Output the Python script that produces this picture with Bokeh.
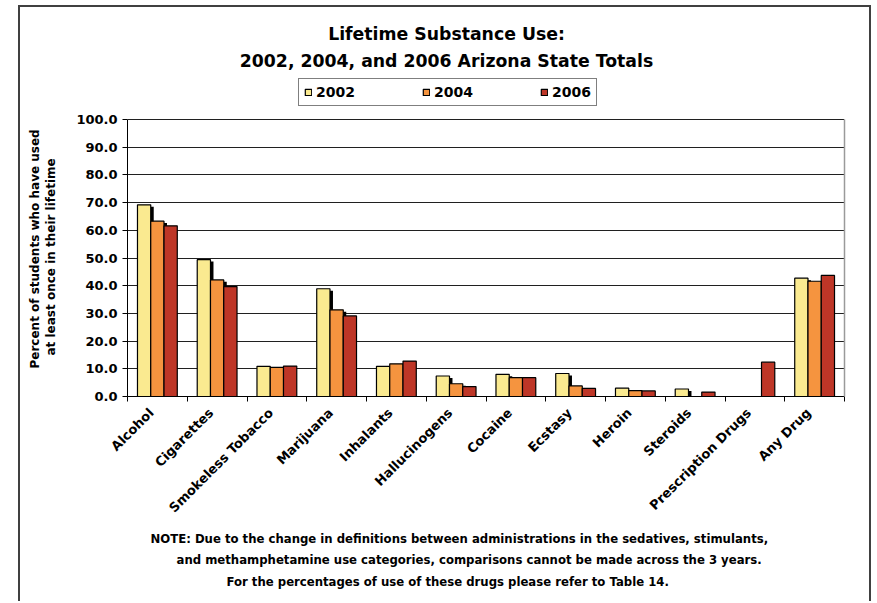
import math
from bokeh.plotting import figure
from bokeh.models import (Range1d, LinearAxis, FixedTicker, Title, Label,
                          Legend, LegendItem, PrintfTickFormatter, ColumnDataSource, Grid)
from bokeh.transform import dodge
from bokeh.embed import file_html
from bokeh.resources import INLINE

nan = float("nan")

categories = ["Alcohol", "Cigarettes", "Smokeless Tobacco", "Marijuana", "Inhalants",
              "Hallucinogens", "Cocaine", "Ecstasy", "Heroin", "Steroids",
              "Prescription Drugs", "Any Drug"]
y2002 = [69.2, 49.4, 10.9, 38.9, 10.9, 7.4, 8.0, 8.3, 3.0, 2.7, nan, 42.7]
y2004 = [63.3, 42.1, 10.5, 31.3, 11.8, 4.6, 6.8, 3.8, 2.1, nan, nan, 41.6]
y2006 = [61.6, 39.7, 11.0, 29.1, 12.8, 3.6, 6.8, 2.9, 2.0, 1.6, 12.4, 43.7]
years = ["2002", "2004", "2006"]
yticks = [0, 10, 20, 30, 40, 50, 60, 70, 80, 90, 100]

title_lines = ["Lifetime Substance Use:", "2002, 2004, and 2006 Arizona State Totals"]
ytitle_lines = ["Percent of students who have used", "at least once in their lifetime"]
note_lines = [
    "NOTE: Due to the change in definitions between administrations in the sedatives, stimulants,",
    "and methamphetamine use categories, comparisons cannot be made across the 3 years.",
    "For the percentages of use of these drugs please refer to Table 14.",
]

colors = ["#FAEA90", "#F5943F", "#BE3627"]
FONT = "DejaVu Sans"

n = len(categories)
centers = [i + 0.5 for i in range(n)]
src = ColumnDataSource(dict(x=centers, y2002=y2002, y2004=y2004, y2006=y2006,
                            s2002=[v - 0.7 for v in y2002], s2004=[v - 0.7 for v in y2004]))

# frame spans from the top of the canvas (389 px) down to the zero line; 100 sits 277 px above zero
frame_h, scale_h = 389, 277
y_top = 100 * frame_h / scale_h

p = figure(x_range=Range1d(0, n), y_range=Range1d(0, y_top),
           width=853, height=596, output_backend="svg", toolbar_location=None,
           x_axis_location=None, y_axis_location=None, title_location=None,
           min_border_left=107, min_border_right=29, min_border_top=0, min_border_bottom=207,
           outline_line_color=None,
           background_fill_color="white", border_fill_color="white",
           styles={"margin-left": "18px", "margin-top": "5px",
                   "border": "2px solid #404040", "border-bottom": "none"})
p.xgrid.visible = False
p.ygrid.visible = False

ytk = FixedTicker(ticks=yticks)
p.add_layout(Grid(dimension=1, ticker=ytk, grid_line_color="#202020", grid_line_width=1))

bw = 0.222
offs = [-bw, 0.0, bw]
# drop shadows
for key, off in (("s2002", offs[0]), ("s2004", offs[1])):
    p.vbar(x=dodge("x", off + 0.05), top=key, width=bw, source=src,
           fill_color="black", line_color=None)
rends = []
for key, off, c in zip(("y2002", "y2004", "y2006"), offs, colors):
    r = p.vbar(x=dodge("x", off), top=key, width=bw, source=src,
               fill_color=c, line_color="black", line_width=1.2)
    rends.append(r)

# ---- left side: axis, blank spacer axis, then the two title lines
yaxis = LinearAxis(ticker=ytk, bounds=(0, 100), formatter=PrintfTickFormatter(format="%.1f"),
                   major_tick_out=5, major_tick_in=0, minor_tick_line_color=None,
                   axis_line_color="black", major_tick_line_color="black",
                   major_label_text_font=FONT, major_label_text_font_style="bold",
                   major_label_text_font_size="13px", major_label_text_color="black",
                   major_label_standoff=5)
p.add_layout(yaxis, "left")
spacer = LinearAxis(ticker=FixedTicker(ticks=[50]), axis_line_color=None,
                    major_tick_line_color="white", minor_tick_line_color=None,
                    major_tick_out=16, major_tick_in=0, major_label_standoff=0,
                    major_label_overrides={50: ""},
                    major_label_text_font_size="1px", major_label_text_color="white")
p.add_layout(spacer, "left")
for t, off, so in ((ytitle_lines[1], 41, 0), (ytitle_lines[0], 28, 0)):
    p.add_layout(Title(text=t, align="left", offset=off, standoff=so,
                       text_font=FONT, text_font_style="bold",
                       text_font_size="12px", text_color="black"), "left")

# ---- right side: grey plot-area edge
raxis = LinearAxis(ticker=FixedTicker(ticks=[]), bounds=(0, 100),
                   axis_line_color="#9a9a9a", axis_line_width=1.5,
                   major_tick_line_color=None, minor_tick_line_color=None,
                   major_label_text_font_size="0px")
p.add_layout(raxis, "right")

# ---- below: tick marks between groups, category labels, notes
tick_axis = LinearAxis(ticker=FixedTicker(ticks=list(range(n + 1))),
                       major_tick_out=5, major_tick_in=0, minor_tick_line_color=None,
                       axis_line_color="black", major_tick_line_color="black",
                       major_label_text_font_size="0px", major_label_standoff=0,
                       major_label_overrides={i: "" for i in range(n + 1)})
p.add_layout(tick_axis, "below")

label_pos = [c - 0.1 for c in centers]
cat_axis = LinearAxis(ticker=FixedTicker(ticks=label_pos),
                      major_label_overrides={c: name for c, name in zip(label_pos, categories)},
                      axis_line_color=None, major_tick_line_color=None,
                      minor_tick_line_color=None, major_tick_out=0, major_tick_in=0,
                      major_label_orientation=math.pi / 4,
                      major_label_text_font=FONT, major_label_text_font_style="bold",
                      major_label_text_font_size="13px", major_label_text_color="black",
                      major_label_standoff=9)
p.add_layout(cat_axis, "below")

for t, off, so, va in zip(note_lines, (23, 49, 99), (12, 3, 4), ("bottom", "top", "bottom")):
    p.add_layout(Title(text=t, align="left", offset=off, standoff=so, vertical_align=va,
                       text_font=FONT, text_font_style="bold",
                       text_font_size="11.7px", text_color="black"), "below")

# ---- inside the tall frame: legend and title
legend = Legend(items=[LegendItem(label=y, renderers=[r]) for y, r in zip(years, rends)],
                orientation="horizontal", location=(171, 290),
                glyph_width=8, glyph_height=8, label_standoff=4, spacing=67,
                padding=5, margin=0,
                label_text_font=FONT, label_text_font_style="bold",
                label_text_font_size="14px", label_text_color="black",
                border_line_color="black", border_line_width=1,
                background_fill_color="white", background_fill_alpha=1)
p.add_layout(legend, "center")

for t, yy in zip(title_lines, (363, 336)):
    p.add_layout(Label(x=319, y=yy, x_units="screen", y_units="screen", text=t,
                       text_align="center", text_baseline="middle",
                       text_font=FONT, text_font_style="bold",
                       text_font_size="17.3px", text_color="black"))

open("out.html", "w").write(file_html(p, INLINE))
